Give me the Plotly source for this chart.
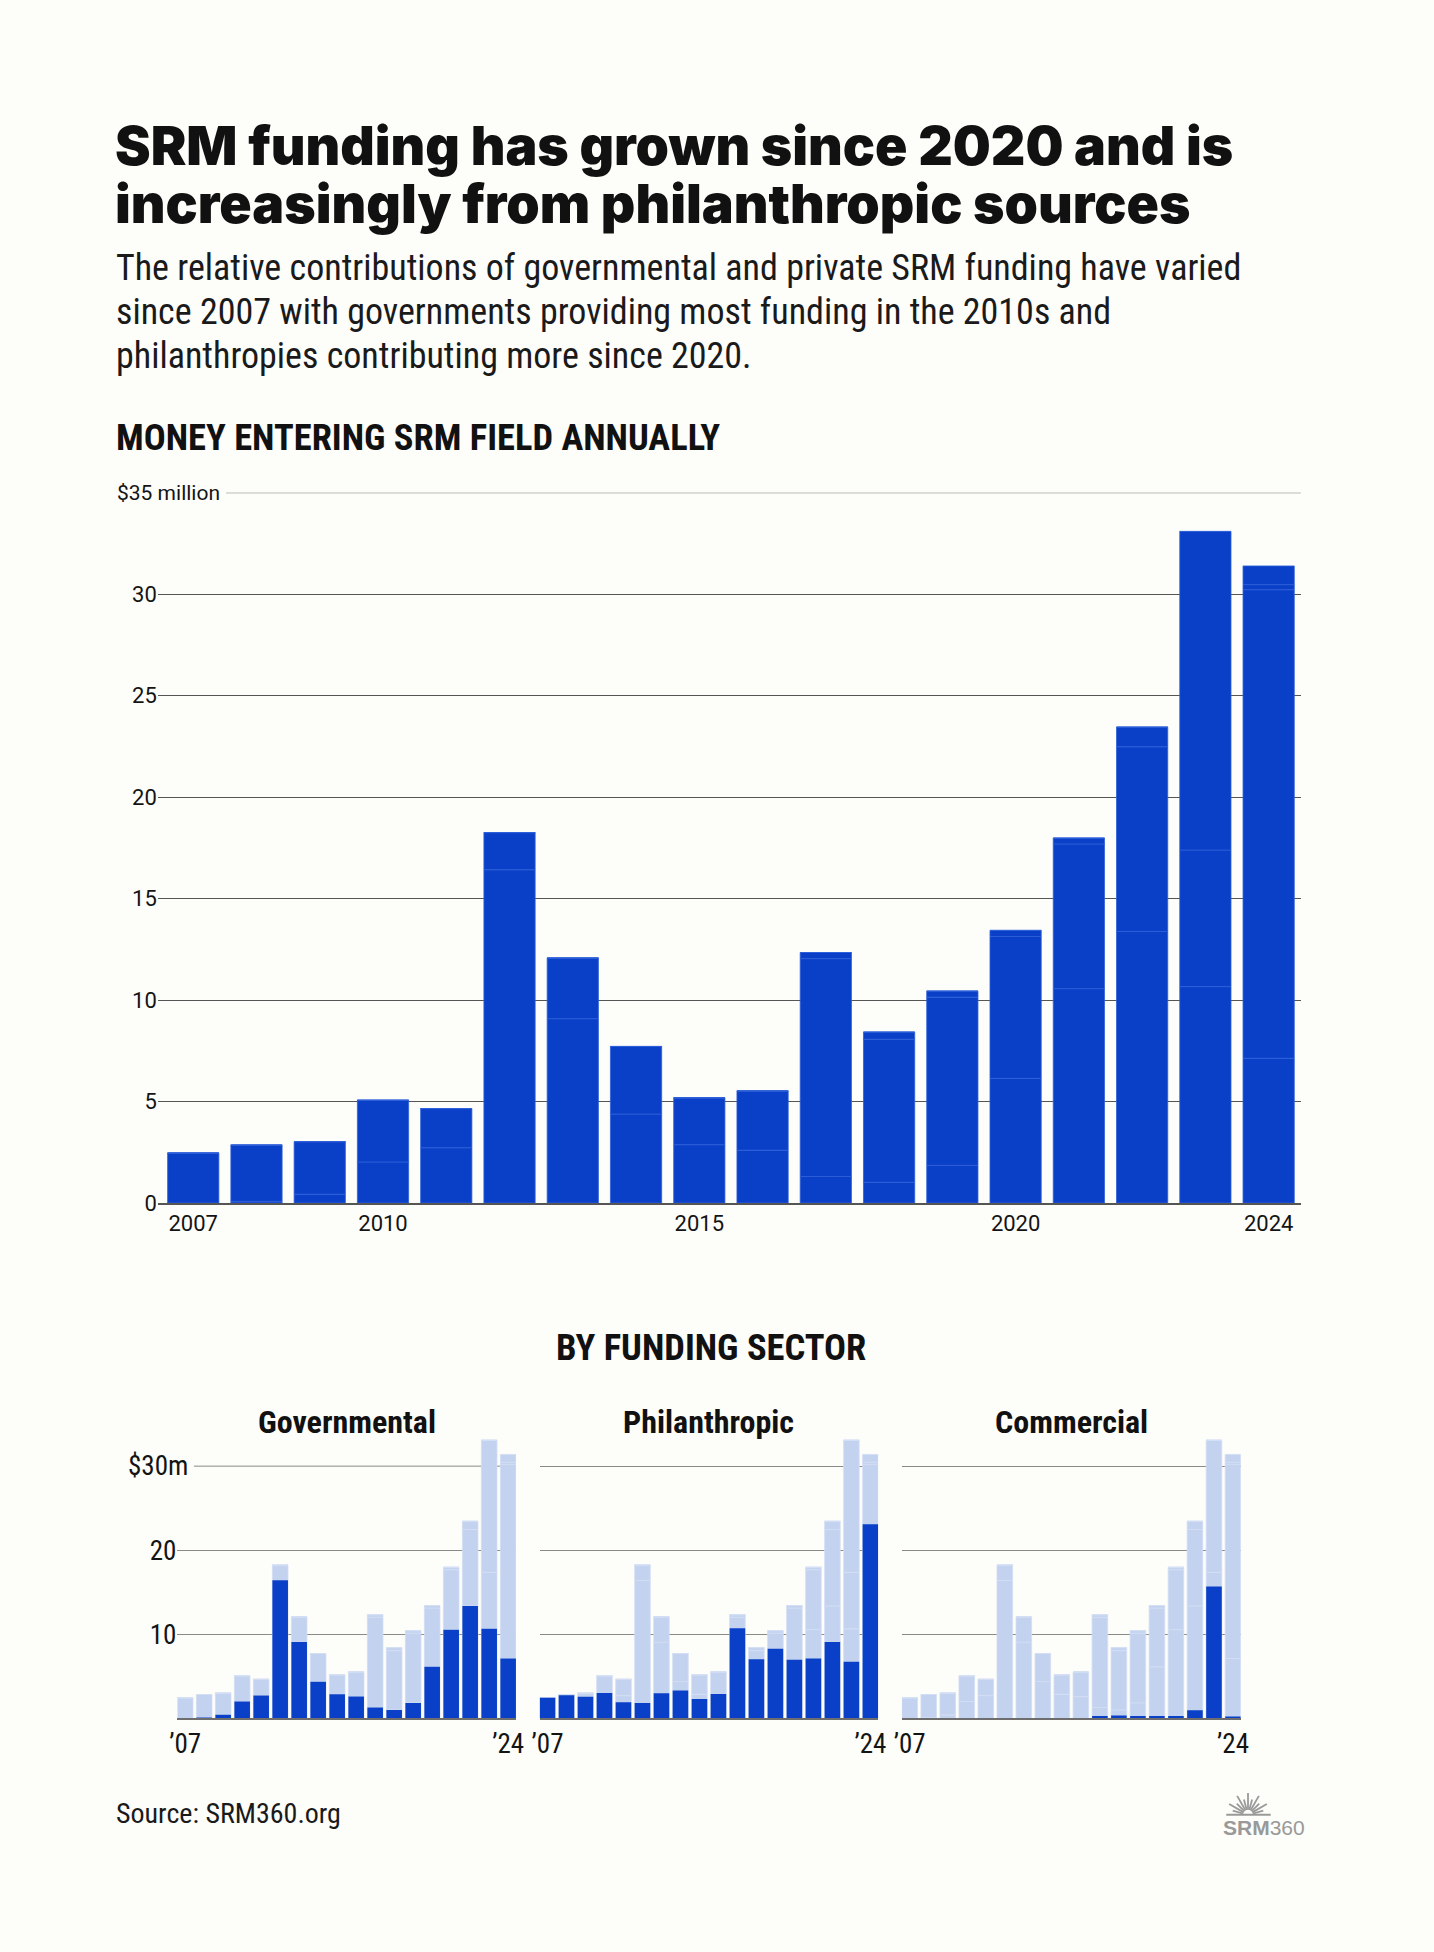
import math
import plotly.graph_objects as go

# ---------------- data ----------------
years = list(range(2007, 2025))
governmental = [0.0, 0.08, 0.43, 2.02, 2.72, 16.42, 9.08, 4.38, 2.87, 2.60,
                1.30, 1.02, 1.85, 6.14, 10.56, 13.38, 10.66, 7.13]
philanthropic = [2.46, 2.77, 2.59, 3.04, 1.93, 1.83, 2.99, 3.33, 2.31, 2.92,
                 10.74, 7.05, 8.29, 6.99, 7.13, 9.10, 6.73, 23.09]
commercial = [0.0, 0.0, 0.0, 0.0, 0.0, 0.0, 0.0, 0.0, 0.0, 0.0,
              0.30, 0.35, 0.30, 0.30, 0.29, 0.97, 15.70, 0.25]
other = [0.0, 0.0, 0.0, 0.0, 0.0, 0.0, 0.0, 0.0, 0.0, 0.0,
         0.0, 0.0, 0.0, 0.0, 0.0, 0.0, 0.0, 0.92]

main_x_ticks = [2007, 2010, 2015, 2020, 2024]
main_x_labels = ["2007", "2010", "2015", "2020", "2024"]
main_y_ticks = [0, 5, 10, 15, 20, 25, 30]
main_y_top = 35
main_y_top_label = "$35 million"

small_x_ticks = [2007, 2024]
small_x_labels = ["\u201907", "\u201924"]
small_y_ticks = [10, 20]
small_y_top = 30
small_y_top_label = "$30m"
sector_names = ["Governmental", "Philanthropic", "Commercial"]

title_lines = ["SRM funding has grown since 2020 and is",
               "increasingly from philanthropic sources"]
subtitle_lines = ["The relative contributions of governmental and private SRM funding have varied",
                  "since 2007 with governments providing most funding in the 2010s and",
                  "philanthropies contributing more since 2020."]
chart_heading = "MONEY ENTERING SRM FIELD ANNUALLY"
small_heading = "BY FUNDING SECTOR"
source_text = "Source: SRM360.org"

# ---------------- style ----------------
W, H = 1434, 1952
BG = "#fdfdfa"
DARK = "#0a40c8"
DARK_EDGE = "#2f5fd9"
LIGHT = "#c3d2ef"
LIGHT_EDGE = "#d3def4"
TXT = "#141414"
COND = "Roboto Condensed, Liberation Sans Narrow, Roboto, sans-serif"
REG = "Roboto, sans-serif"


def px(x):
    return x / W


def py(y):
    return 1 - y / H


segments = [governmental, philanthropic, commercial, other]
bases = []
run = [0.0] * len(years)
for seg in segments:
    bases.append(list(run))
    run = [a + b for a, b in zip(run, seg)]

fig = go.Figure()

# main chart
for seg, base in zip(segments, bases):
    fig.add_trace(go.Bar(x=years, y=seg, base=base, width=0.81,
                         marker=dict(color=DARK, line=dict(color=DARK_EDGE, width=0.8)),
                         xaxis="x", yaxis="y", showlegend=False, hoverinfo="skip"))

# small multiples
for i, name in enumerate(sector_names):
    xa = "x%d" % (i + 2)
    ya = "y%d" % (i + 2)
    for seg, base in zip(segments, bases):
        fig.add_trace(go.Bar(x=years, y=seg, base=base, width=0.82,
                             marker=dict(color=LIGHT, line=dict(color=LIGHT_EDGE, width=0.8)),
                             xaxis=xa, yaxis=ya, showlegend=False, hoverinfo="skip"))
    fig.add_trace(go.Bar(x=years, y=segments[i], base=[0] * len(years), width=0.82,
                         marker=dict(color=DARK, line=dict(color=DARK, width=0)),
                         xaxis=xa, yaxis=ya, showlegend=False, hoverinfo="skip"))

layout = dict(
    width=W, height=H, barmode="overlay",
    paper_bgcolor=BG, plot_bgcolor=BG,
    margin=dict(l=0, r=0, t=0, b=0),
    font=dict(family=REG, color=TXT),
    showlegend=False,
)

layout["xaxis"] = dict(domain=[px(151.5), px(1307.5)], range=[2006.44, 2024.51],
                       tickvals=main_x_ticks, ticktext=main_x_labels,
                       showgrid=False, zeroline=False, showline=True,
                       linecolor="#555555", linewidth=1.5, ticks="",
                       tickfont=dict(family=REG, size=22, color=TXT), anchor="y",
                       fixedrange=True)
layout["yaxis"] = dict(domain=[py(1211), py(496)], range=[0, main_y_top],
                       tickvals=main_y_ticks, showgrid=True, gridcolor="#555555",
                       gridwidth=1, zeroline=False, ticks="", showline=False,
                       tickfont=dict(family=REG, size=22, color=TXT), anchor="x",
                       fixedrange=True)

SM_BOTTOM, SM_TOP = 1730, 1442.1
small_domains = [(171.3, 513.7), (537.7, 880.0), (904.0, 1246.7)]
for i, (a, b) in enumerate(small_domains):
    k = i + 2
    layout["xaxis%d" % k] = dict(domain=[px(a), px(b)], range=[2006.59, 2024.41],
                                 tickvals=small_x_ticks, ticktext=small_x_labels,
                                 showgrid=False, zeroline=False, showline=True,
                                 linecolor="#6e6e6e", linewidth=2, ticks="",
                                 tickfont=dict(family=COND, size=27, color=TXT),
                                 anchor="y%d" % k, fixedrange=True)
    yt = small_y_ticks if i == 0 else small_y_ticks + [small_y_top]
    layout["yaxis%d" % k] = dict(domain=[py(SM_BOTTOM), py(SM_TOP)], range=[0, 34],
                                 tickvals=yt, showgrid=True, gridcolor="#8a8a8a",
                                 gridwidth=1, zeroline=False, ticks="",
                                 showticklabels=(i == 0),
                                 tickfont=dict(family=COND, size=27, color=TXT),
                                 anchor="x%d" % k, fixedrange=True)

shapes = [
    dict(type="line", xref="paper", yref="y", x0=px(220.5), x1=px(1307.5),
         y0=main_y_top, y1=main_y_top, line=dict(color="#555555", width=1), layer="below"),
    dict(type="line", xref="paper", yref="y2", x0=px(188), x1=px(513.7),
         y0=small_y_top, y1=small_y_top, line=dict(color="#8a8a8a", width=1), layer="below"),
]

# logo rays
cx, cy = 1254, 1827
for ang in range(15, 166, 15):
    r = 22 if ang % 30 == 0 else 16
    t = math.radians(ang)
    shapes.append(dict(type="line", xref="paper", yref="paper",
                       x0=px(cx + 5 * math.cos(t)), y0=py(cy - 5 * math.sin(t)),
                       x1=px(cx + r * math.cos(t)), y1=py(cy - r * math.sin(t)),
                       line=dict(color="#9a9a9a", width=1.8)))
shapes.append(dict(type="line", xref="paper", yref="paper",
                   x0=px(1232), x1=px(1277), y0=py(cy), y1=py(cy),
                   line=dict(color="#9a9a9a", width=2)))
layout["shapes"] = shapes

ann = []
TITLE_FONT = dict(family="Inter, sans-serif", size=53.5, color="#111111", weight=900)
ann.append(dict(text=title_lines[0], x=px(106), y=py(146), xanchor="left", yanchor="middle",
                font=TITLE_FONT))
ann.append(dict(text=title_lines[1], x=px(106), y=py(205), xanchor="left", yanchor="middle",
                font=TITLE_FONT))
for j, line in enumerate(subtitle_lines):
    ann.append(dict(text=line, x=px(107), y=py(270 + 44 * j), xanchor="left", yanchor="middle",
                    font=dict(family=COND, size=36, color="#1a1a1a")))
ann.append(dict(text="<b>%s</b>" % chart_heading, x=px(107), y=py(440), xanchor="left",
                yanchor="middle", font=dict(family=COND, size=36.5, color="#111111")))
ann.append(dict(text=main_y_top_label, x=px(108), y=main_y_top, yref="y", xanchor="left",
                yanchor="middle", font=dict(family=REG, size=21, color=TXT)))
ann.append(dict(text="<b>%s</b>" % small_heading, x=px(711), y=py(1357), xanchor="center",
                yanchor="middle", font=dict(family=COND, size=36.5, color="#111111")))
for (a, b), name in zip(small_domains, sector_names):
    ann.append(dict(text="<b>%s</b>" % name, x=px((a + b) / 2), y=py(1432), xanchor="center",
                    yanchor="middle", font=dict(family=COND, size=32, color="#111111")))
ann.append(dict(text=small_y_top_label, x=px(184), y=small_y_top, yref="y2", xanchor="right",
                yanchor="middle", font=dict(family=COND, size=27, color=TXT)))
ann.append(dict(text=source_text, x=px(107), y=py(1826), xanchor="left", yanchor="middle",
                font=dict(family=COND, size=28, color="#1a1a1a")))
ann.append(dict(text="<b>SRM</b>360", x=px(1270), y=py(1840), xanchor="center", yanchor="middle",
                font=dict(family="Liberation Sans, Arial, sans-serif", size=21, color="#999999")))
for a in ann:
    a.setdefault("xref", "paper")
    a.setdefault("yref", "paper")
    a["showarrow"] = False
layout["annotations"] = ann

fig.update_layout(**layout)
fig.write_html("out.html", config={"displayModeBar": False},
               post_script="document.body.style.margin='0';"
                           "document.body.style.background='%s';" % BG)
